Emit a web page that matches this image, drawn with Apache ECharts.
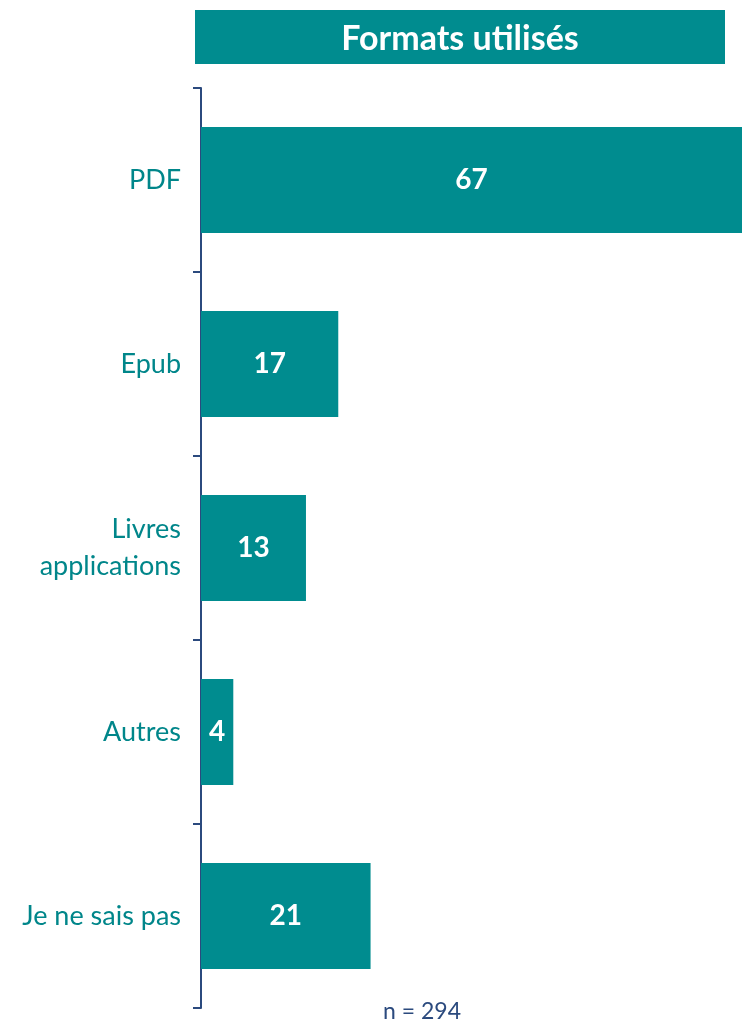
<!DOCTYPE html>
<html><head><meta charset="utf-8">
<script src="https://cdn.jsdelivr.net/npm/echarts@6/dist/echarts.min.js"></script>
<style>html,body{margin:0;padding:0;background:#fff}#c{width:742px;height:1021px}</style>
</head><body><div id="c"></div>
<script>
var categories = ['PDF', 'Epub', 'Livres\napplications', 'Autres', 'Je ne sais pas'];
var values = [67, 17, 13, 4, 21];
var titleText = 'Formats utilisés';
var noteText = 'n = 294';

var teal = '#008C8F';
var navy = '#2B4A7E';
var chart = echarts.init(document.getElementById('c'));
chart.setOption({
  animation: false,
  grid: {left: 201, right: 0, top: 88, bottom: 13},
  xAxis: {type: 'value', min: 0, max: 67, show: false},
  yAxis: {
    type: 'category', data: categories, inverse: true,
    axisLine: {show: true, lineStyle: {color: navy, width: 2}},
    axisTick: {show: true, length: 8, lineStyle: {color: navy, width: 2}},
    axisLabel: {color: '#00868A', fontFamily: 'Lato', fontSize: 27, margin: 20, lineHeight: 37, align: 'right', padding: [6, 0, 0, 0]}
  },
  series: [{
    type: 'bar', data: values, barWidth: 106,
    itemStyle: {color: teal},
    label: {show: true, position: 'inside', color: '#fff', fontFamily: 'Lato', fontWeight: 'bold', fontSize: 28, padding: [6, 0, 0, 0]}
  }],
  graphic: [
    {type: 'rect', left: 195, top: 10, shape: {width: 530, height: 54}, style: {fill: teal}},
    {type: 'text', x: 460, y: 39, style: {text: titleText, fill: '#fff', font: 'bold 34px Lato', align: 'center', verticalAlign: 'middle'}},
    {type: 'text', x: 422, y: 1012, style: {text: noteText, fill: navy, font: '23px Lato', align: 'center', verticalAlign: 'middle'}}
  ]
});
</script></body></html>
